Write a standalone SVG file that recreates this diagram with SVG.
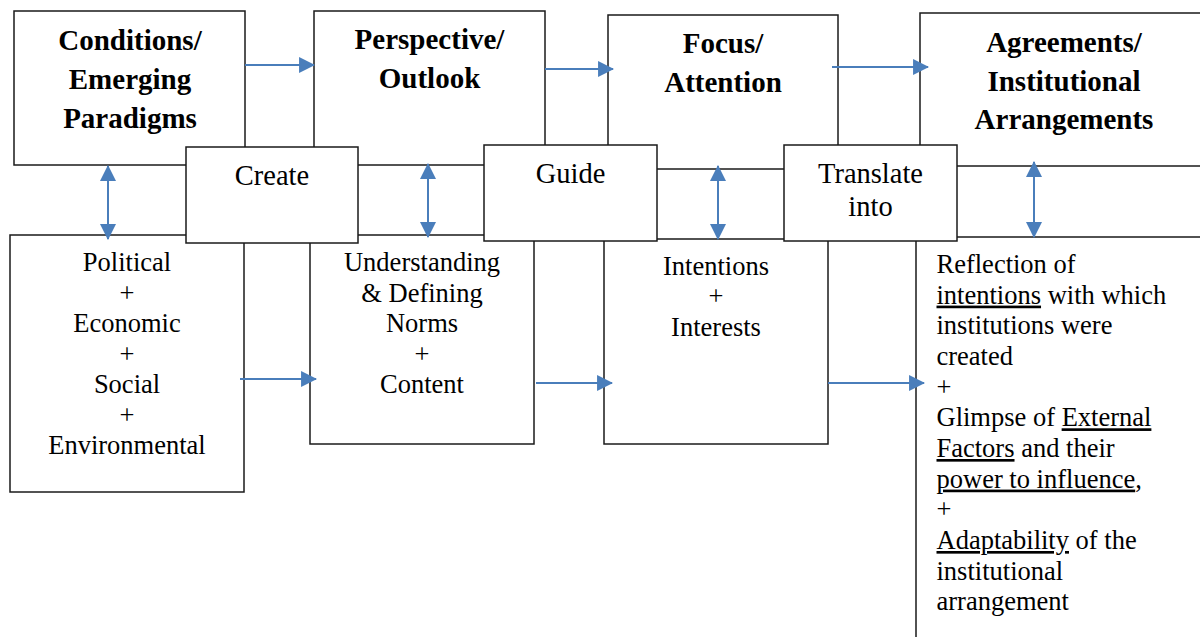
<svg xmlns="http://www.w3.org/2000/svg" width="1200" height="637" viewBox="0 0 1200 637">
<style>
.box{fill:#fff;stroke:#1a1a1a;stroke-width:1.5}
.t{fill:#000;font-family:'Liberation Serif','Times New Roman',serif}
.title{font-size:29px;font-weight:bold;text-anchor:middle}
.mid{font-size:28.5px;text-anchor:middle}
.body{font-size:26.5px;text-anchor:middle}
.left{font-size:26.5px;text-anchor:start}
.u{text-decoration:underline}
.conn{stroke:#4a7ebb;stroke-width:2;fill:none}
</style>
<defs>
<marker id="ah" markerUnits="userSpaceOnUse" markerWidth="16" markerHeight="16" viewBox="0 0 15 15" refX="14" refY="7.5" orient="auto-start-reverse">
<path d="M0,0 L15,7.5 L0,15 z" fill="#4a7ebb"/>
</marker>
</defs>
<rect width="1200" height="637" fill="#fff"/>
<g font-family="'Liberation Serif', 'Times New Roman', serif">
<g id="n-conditions">
<rect class="box" x="14" y="11" width="231" height="154"/>
<text class="t title" x="130" y="50">Conditions/</text>
<text class="t title" x="130" y="89">Emerging</text>
<text class="t title" x="130" y="128">Paradigms</text>
</g>
<g id="n-perspective">
<rect class="box" x="314" y="11" width="231" height="154"/>
<text class="t title" x="429.5" y="49">Perspective/</text>
<text class="t title" x="429.5" y="88">Outlook</text>
</g>
<g id="n-focus">
<rect class="box" x="608" y="15" width="230" height="154"/>
<text class="t title" x="723" y="53">Focus/</text>
<text class="t title" x="723" y="92">Attention</text>
</g>
<g id="n-agreements">
<rect class="box" x="920" y="13" width="290" height="153"/>
<text class="t title" x="1064" y="52">Agreements/</text>
<text class="t title" x="1064" y="90.5">Institutional</text>
<text class="t title" x="1064" y="129">Arrangements</text>
</g>

<g id="n-pese">
<rect class="box" x="10" y="235" width="234" height="257"/>
<text class="t body" x="127" y="271">Political</text>
<text class="t body" x="127" y="301.5">+</text>
<text class="t body" x="127" y="332">Economic</text>
<text class="t body" x="127" y="362.5">+</text>
<text class="t body" x="127" y="393">Social</text>
<text class="t body" x="127" y="423.5">+</text>
<text class="t body" x="127" y="454">Environmental</text>
</g>
<g id="n-understanding">
<rect class="box" x="310" y="235" width="224" height="209"/>
<text class="t body" x="422" y="271">Understanding</text>
<text class="t body" x="422" y="301.5">&amp; Defining</text>
<text class="t body" x="422" y="332">Norms</text>
<text class="t body" x="422" y="362.5">+</text>
<text class="t body" x="422" y="393">Content</text>
</g>
<g id="n-intentions">
<rect class="box" x="604" y="239" width="224" height="205"/>
<text class="t body" x="716" y="274.5">Intentions</text>
<text class="t body" x="716" y="305">+</text>
<text class="t body" x="716" y="335.5">Interests</text>
</g>
<g id="n-reflection">
<rect class="box" x="916" y="237" width="300" height="420"/>
<text class="t left" x="936.5" y="273">Reflection of</text>
<text class="t left" x="936.5" y="303.6"><tspan class="u">intentions</tspan> with which</text>
<text class="t left" x="936.5" y="334.3">institutions were</text>
<text class="t left" x="936.5" y="365">created</text>
<text class="t left" x="936.5" y="395.6">+</text>
<text class="t left" x="936.5" y="426.3">Glimpse of <tspan class="u">External</tspan></text>
<text class="t left" x="936.5" y="457"><tspan class="u">Factors</tspan> and their</text>
<text class="t left" x="936.5" y="487.6"><tspan class="u">power to influence</tspan>,</text>
<text class="t left" x="936.5" y="518.3">+</text>
<text class="t left" x="936.5" y="549"><tspan class="u">Adaptability</tspan> of the</text>
<text class="t left" x="936.5" y="579.6">institutional</text>
<text class="t left" x="936.5" y="610.3">arrangement</text>
</g>

<g id="n-create">
<rect class="box" x="186" y="147" width="172" height="96"/>
<text class="t mid" x="272" y="185">Create</text>
</g>
<g id="n-guide">
<rect class="box" x="484" y="145" width="173" height="96"/>
<text class="t mid" x="570.5" y="183">Guide</text>
</g>
<g id="n-translate">
<rect class="box" x="784" y="145" width="173" height="96"/>
<text class="t mid" x="870.5" y="183">Translate</text>
<text class="t mid" x="870.5" y="216">into</text>
</g>
</g>

<g id="connectors">
<line class="conn" x1="245" y1="65" x2="314" y2="65" marker-end="url(#ah)"/>
<line class="conn" x1="545" y1="69" x2="613" y2="69" marker-end="url(#ah)"/>
<line class="conn" x1="832" y1="67" x2="928" y2="67" marker-end="url(#ah)"/>
<line class="conn" x1="240" y1="379" x2="316" y2="379" marker-end="url(#ah)"/>
<line class="conn" x1="536" y1="383" x2="612" y2="383" marker-end="url(#ah)"/>
<line class="conn" x1="828" y1="383" x2="924" y2="383" marker-end="url(#ah)"/>
<line class="conn" x1="108" y1="166" x2="108" y2="239" marker-start="url(#ah)" marker-end="url(#ah)"/>
<line class="conn" x1="428" y1="164" x2="428" y2="237" marker-start="url(#ah)" marker-end="url(#ah)"/>
<line class="conn" x1="718" y1="166" x2="718" y2="239" marker-start="url(#ah)" marker-end="url(#ah)"/>
<line class="conn" x1="1034" y1="162" x2="1034" y2="237" marker-start="url(#ah)" marker-end="url(#ah)"/>
</g>
</svg>
